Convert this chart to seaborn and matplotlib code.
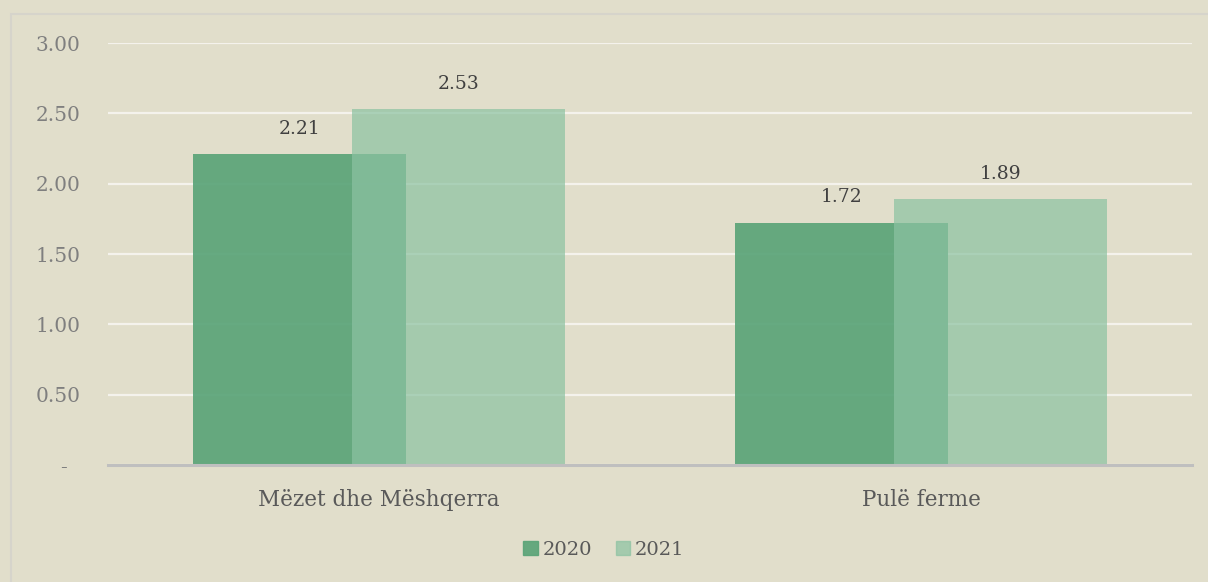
import pandas as pd
import matplotlib
matplotlib.use("Agg")
import matplotlib.pyplot as plt
import matplotlib.patches as mpatches
import seaborn as sns

# Të dhënat
kategorite = ["Mëzet dhe Mëshqerra", "Pulë ferme"]
vitet = ["2020", "2021"]
vlerat_2020 = [2.21, 1.72]
vlerat_2021 = [2.53, 1.89]
y_ticks = [0, 0.5, 1.0, 1.5, 2.0, 2.5, 3.0]
y_etiketat = ["-  ", "0.50", "1.00", "1.50", "2.00", "2.50", "3.00"]

df = pd.DataFrame({
    "kategoria": kategorite * 2,
    "viti": [vitet[0]] * 2 + [vitet[1]] * 2,
    "vlera": vlerat_2020 + vlerat_2021,
})

sfondi = "#E1DECB"
ngjyrat = {"2020": "#5AA478", "2021": "#8CC2A2"}
alfa = {"2020": 0.92, "2021": 0.71}

sns.set_theme(style="white")
plt.rcParams["font.family"] = ["DejaVu Serif"]

fig = plt.figure(figsize=(12.08, 5.82), dpi=100, facecolor=sfondi)
ax = fig.add_axes([0.0894, 0.201, 0.8974, 0.725])
ax.set_facecolor(sfondi)

sns.barplot(data=df, x="kategoria", y="vlera", hue="viti", hue_order=vitet,
            palette=ngjyrat, saturation=1, width=0.8, ax=ax, legend=False, zorder=3)

# bars overlap: narrow the dodge and widen each bar
gjeresia = 0.393
zhvendosja = 0.147
for viti, cont in zip(vitet, ax.containers):
    for p in cont.patches:
        qendra = p.get_x() + p.get_width() / 2
        kat = round(qendra)
        nq = kat + (zhvendosja if viti == "2021" else -zhvendosja)
        p.set_width(gjeresia)
        p.set_x(nq - gjeresia / 2)
        p.set_alpha(alfa[viti])
        p.set_edgecolor("none")
    ax.bar_label(cont, fmt="%.2f", padding=12, fontsize=13.5, color="#404040")

ax.set_xlim(-0.5, 1.5)
ax.set_ylim(0, 3.0)
ax.set_yticks(y_ticks)
ax.set_yticklabels(y_etiketat)
ax.grid(axis="y", color="#F4F2EC", linewidth=1.6, zorder=0)
ax.set_axisbelow(True)
for s in ["top", "right", "left"]:
    ax.spines[s].set_visible(False)
ax.spines["bottom"].set_color("#BFBFBF")
ax.spines["bottom"].set_linewidth(2.2)
ax.spines["bottom"].set_zorder(4)
ax.tick_params(axis="y", length=0, pad=20, labelsize=14.5, labelcolor="#7F7F7F")
ax.tick_params(axis="x", length=0, pad=17, labelsize=15.5, labelcolor="#595959")
ax.set_xlabel("")
ax.set_ylabel("")

doreza = [mpatches.Patch(color=ngjyrat[v], alpha=alfa[v], label=v) for v in vitet]
fig.legend(handles=doreza, loc="center", bbox_to_anchor=(0.5, 0.055), ncol=2,
           frameon=False, fontsize=14, handlelength=0.75, handleheight=0.75,
           handletextpad=0.25, columnspacing=1.2, labelcolor="#595959")

# korniza e jashtme
fig.patches.append(mpatches.Rectangle((11 / 1208, -0.01), 1.0, 1 - 14 / 582 + 0.01,
                                      transform=fig.transFigure, fill=False,
                                      edgecolor="#D6D4CB", linewidth=1.5))

fig.savefig("out.png", dpi=100, facecolor=sfondi)
